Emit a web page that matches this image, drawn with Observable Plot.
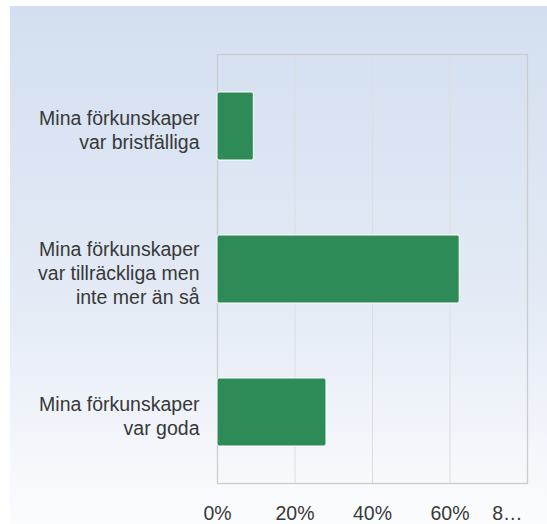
<!DOCTYPE html>
<html>
<head>
<meta charset="utf-8">
<script src="https://cdn.jsdelivr.net/npm/d3@7"></script>
<script src="https://cdn.jsdelivr.net/npm/@observablehq/plot@0.6"></script>
<style>
  html, body { margin: 0; padding: 0; background: #fff; }
  #wrap { position: relative; width: 547px; height: 524px; overflow: hidden; }
  #bg { position: absolute; left: 10px; top: 6px; right: 0; bottom: 0;
        background: linear-gradient(to bottom, #d3dff0 0%, #e3eaf5 55%, #fbfcfe 100%); }
  #chart { position: absolute; left: 0; top: 0; }
  #chart svg { background: transparent !important; }
</style>
</head>
<body>
<div id="wrap"><div id="bg"></div><div id="chart"></div></div>
<script>
const categories = [
  "Mina förkunskaper\nvar bristfälliga",
  "Mina förkunskaper\nvar tillräckliga men\ninte mer än så",
  "Mina förkunskaper\nvar goda"
];
const values = [0.09375, 0.625, 0.28125];
const tickValues = [0, 0.2, 0.4, 0.6];
const tickLabels = ["0%", "20%", "40%", "60%"];
const lastTickValue = [0.8];
const lastTickLabel = ["8…"];

const data = categories.map((c, i) => ({category: c, value: values[i]}));
const ticks = tickValues.map((v, i) => ({v, label: tickLabels[i]}));
const lastTick = lastTickValue.map((v, i) => ({v, label: lastTickLabel[i]}));

const font = "'Liberation Sans', Arial, sans-serif";

const chart = Plot.plot({
  width: 547,
  height: 524,
  marginLeft: 217,
  marginRight: 20,
  marginTop: 54,
  marginBottom: 41,
  style: {background: "transparent", fontFamily: font},
  x: {domain: [0, 0.8], axis: null},
  y: {domain: categories, axis: null, paddingInner: 0.525, paddingOuter: 0.2625},
  marks: [
    Plot.gridX([0.2, 0.4, 0.6], {stroke: "#dddddd", strokeOpacity: 1, strokeWidth: 1}),
    Plot.frame({stroke: "#cccccc", strokeWidth: 1.3}),
    Plot.barX(data, {y: "category", x: "value", fill: "#2e8b57", stroke: "#ffffff", strokeWidth: 1, rx: 2}),
    Plot.text(data, {y: "category", frameAnchor: "left", text: "category", textAnchor: "end",
      dx: -18, dy: 3, fontSize: 19.5, lineHeight: 1.23, fill: "#383838", fontFamily: font}),
    Plot.text(ticks, {x: "v", text: "label", frameAnchor: "bottom", dy: 36, fontSize: 19.5,
      fill: "#383838", fontFamily: font}),
    Plot.text(lastTick, {x: "v", text: "label", frameAnchor: "bottom", dy: 36, textAnchor: "end", dx: -5,
      fontSize: 19.5, fill: "#383838", fontFamily: font})
  ]
});
document.getElementById("chart").appendChild(chart);
</script>
</body>
</html>
